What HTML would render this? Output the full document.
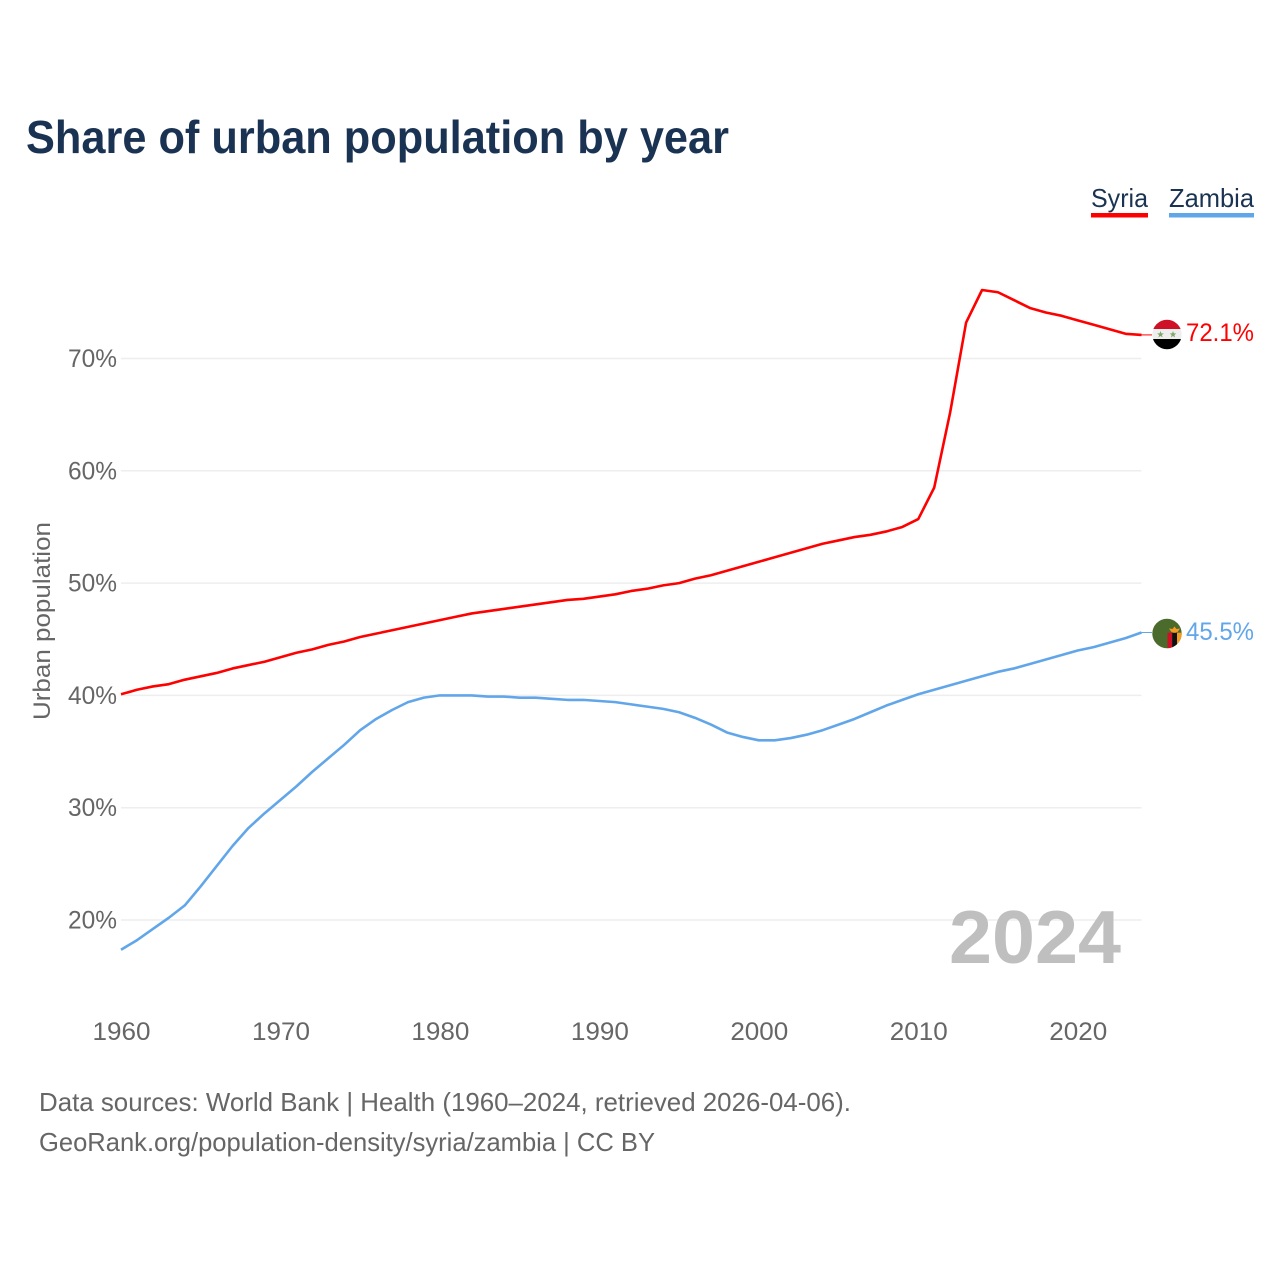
<!DOCTYPE html>
<html lang="en">
<head>
<meta charset="utf-8">
<title>Share of urban population by year</title>
<style>
html,body{margin:0;padding:0;background:#fff;width:1280px;height:1280px;overflow:hidden}
svg{display:block;font-family:"Liberation Sans",sans-serif}
</style>
</head>
<body>
<svg id="chart" xmlns="http://www.w3.org/2000/svg" width="1280" height="1280" viewBox="0 0 1280 1280">
  <defs>
    <clipPath id="clip-syria"><circle cx="1167" cy="334.5" r="14.7"/></clipPath>
    <clipPath id="clip-zambia"><circle cx="1167" cy="633.5" r="14.7"/></clipPath>
  </defs>
  <rect width="1280" height="1280" fill="#fff"/>
  <text x="26" y="153" font-size="46" font-weight="700" fill="#1a3353" textLength="703" lengthAdjust="spacingAndGlyphs">Share of urban population by year</text>

  <g>
    <g>
      <text x="1091" y="207" font-size="26" fill="#1a3353" textLength="57" lengthAdjust="spacingAndGlyphs">Syria</text>
      <rect x="1091" y="213" width="57" height="4.5" fill="#ff0000"/>
    </g>
    <g>
      <text x="1169" y="207" font-size="26" fill="#1a3353" textLength="85" lengthAdjust="spacingAndGlyphs">Zambia</text>
      <rect x="1169" y="213" width="85" height="4.5" fill="#62a6ea"/>
    </g>
  </g>

  <g id="grid"></g>
  <g id="y-axis"></g>
  <g id="x-axis"></g>
  <text transform="translate(50,621) rotate(-90)" text-anchor="middle" font-size="24" fill="#666" textLength="198" lengthAdjust="spacingAndGlyphs">Urban population</text>

  <text x="949" y="963" font-size="75" font-weight="700" fill="#bfbfbf" textLength="172" lengthAdjust="spacingAndGlyphs">2024</text>

  <g id="series"></g>

  <g clip-path="url(#clip-syria)">
    <rect x="1152" y="319" width="30" height="10" fill="#ce1126"/>
    <rect x="1152" y="329" width="30" height="10" fill="#eeeeee"/>
    <rect x="1152" y="339" width="30" height="11" fill="#000"/>
    <polygon points="1160.5,331 1161.4,333.4 1163.9,333.4 1161.9,335 1162.6,337.4 1160.5,336 1158.4,337.4 1159.1,335 1157.1,333.4 1159.6,333.4" fill="#7fa868"/>
    <polygon points="1173,331 1173.9,333.4 1176.4,333.4 1174.4,335 1175.1,337.4 1173,336 1170.9,337.4 1171.6,335 1169.6,333.4 1172.1,333.4" fill="#7fa868"/>
  </g>
  <g clip-path="url(#clip-zambia)">
    <rect x="1152" y="618" width="30" height="31" fill="#4a6b2c"/>
    <rect x="1167.5" y="632.7" width="4.7" height="16" fill="#ce1126"/>
    <rect x="1172.2" y="632.7" width="4.8" height="16" fill="#111"/>
    <rect x="1177" y="632.7" width="5" height="16" fill="#f59a23"/>
    <polygon points="1174.5,626.5 1176.5,629 1180,628.5 1178,631.5 1176,632.7 1173,632.7 1171,631.5 1169,628.5 1172.5,629" fill="#f59a23"/>
  </g>

  <text x="1186" y="341" font-size="25" fill="#ff0000" textLength="68" lengthAdjust="spacingAndGlyphs">72.1%</text>
  <text x="1186" y="640" font-size="25" fill="#62a6ea" textLength="68" lengthAdjust="spacingAndGlyphs">45.5%</text>

  <text x="39" y="1111" font-size="26" fill="#666" textLength="812" lengthAdjust="spacingAndGlyphs">Data sources: World Bank | Health (1960–2024, retrieved 2026-04-06).</text>
  <text x="39" y="1151" font-size="26" fill="#666" textLength="616" lengthAdjust="spacingAndGlyphs">GeoRank.org/population-density/syria/zambia | CC BY</text>
</svg>
<script>
const years = [];
for (let yr = 1960; yr <= 2024; yr++) years.push(yr);
const xTickLabels = [1960, 1970, 1980, 1990, 2000, 2010, 2020];
const yTickLabels = [20, 30, 40, 50, 60, 70];
const syriaValues = [
  40.1, 40.5, 40.8, 41.0, 41.4, 41.7, 42.0, 42.4, 42.7, 43.0,
  43.4, 43.8, 44.1, 44.5, 44.8, 45.2, 45.5, 45.8, 46.1, 46.4,
  46.7, 47.0, 47.3, 47.5, 47.7, 47.9, 48.1, 48.3, 48.5, 48.6,
  48.8, 49.0, 49.3, 49.5, 49.8, 50.0, 50.4, 50.7, 51.1, 51.5,
  51.9, 52.3, 52.7, 53.1, 53.5, 53.8, 54.1, 54.3, 54.6, 55.0,
  55.7, 58.5, 65.2, 73.2, 76.1, 75.9, 75.2, 74.5, 74.1, 73.8,
  73.4, 73.0, 72.6, 72.2, 72.1
];
const zambiaValues = [
  17.35, 18.2, 19.2, 20.2, 21.3, 23.0, 24.8, 26.6, 28.2, 29.5,
  30.7, 31.9, 33.2, 34.4, 35.6, 36.9, 37.9, 38.7, 39.4, 39.8,
  40.0, 40.0, 40.0, 39.9, 39.9, 39.8, 39.8, 39.7, 39.6, 39.6,
  39.5, 39.4, 39.2, 39.0, 38.8, 38.5, 38.0, 37.4, 36.7, 36.3,
  36.0, 36.0, 36.2, 36.5, 36.9, 37.4, 37.9, 38.5, 39.1, 39.6,
  40.1, 40.5, 40.9, 41.3, 41.7, 42.1, 42.4, 42.8, 43.2, 43.6,
  44.0, 44.3, 44.7, 45.1, 45.6
];
const SVGNS = 'http://www.w3.org/2000/svg';
function xScale(year) { return 121 + (year - 1960) * (1141.5 - 121) / 64; }
function yScale(pct) { return 358.5 + (70 - pct) * (920 - 358.5) / 50; }
function make(tag, attrs, parent, text) {
  const el = document.createElementNS(SVGNS, tag);
  for (const k in attrs) el.setAttribute(k, attrs[k]);
  if (text !== undefined) el.textContent = text;
  parent.appendChild(el);
  return el;
}
const grid = document.getElementById('grid');
const yAxis = document.getElementById('y-axis');
const xAxis = document.getElementById('x-axis');
const series = document.getElementById('series');
yTickLabels.forEach(function (t) {
  const line = make('line', {x1: 121, x2: 1141.5, y1: yScale(t), y2: yScale(t), stroke: '#eeeeee', 'stroke-width': 1.5}, grid);
  
  
  const label = make('text', {x: 117, y: yScale(t) + 8.5, 'text-anchor': 'end', 'font-size': 25, fill: '#666', textLength: 49, lengthAdjust: 'spacingAndGlyphs'}, yAxis, t + '%');
  
  
});
xTickLabels.forEach(function (t) {
  const label = make('text', {x: xScale(t) + 0.5, y: 1040, 'text-anchor': 'middle', 'font-size': 25, fill: '#666', textLength: 58, lengthAdjust: 'spacingAndGlyphs'}, xAxis, String(t));
  
  
});
function pathFor(values) {
  return values.map(function (v, i) {
    return (i ? 'L' : 'M') + xScale(years[i]).toFixed(2) + ' ' + yScale(v).toFixed(2);
  }).join(' ');
}
function lastY(values) { return yScale(values[values.length - 1]); }
const syriaLine = make('path', {d: pathFor(syriaValues), fill: 'none', stroke: '#ff0000', 'stroke-width': 2.6, 'stroke-linejoin': 'round'}, series);


const zambiaLine = make('path', {d: pathFor(zambiaValues), fill: 'none', stroke: '#62a6ea', 'stroke-width': 2.6, 'stroke-linejoin': 'round'}, series);


const syriaLeader = make('line', {x1: 1141.5, x2: 1152, y1: lastY(syriaValues), y2: lastY(syriaValues), stroke: '#ff0000', 'stroke-width': 1}, series);


const zambiaLeader = make('line', {x1: 1141.5, x2: 1152, y1: lastY(zambiaValues), y2: lastY(zambiaValues), stroke: '#62a6ea', 'stroke-width': 1}, series);


</script>
</body>
</html>
